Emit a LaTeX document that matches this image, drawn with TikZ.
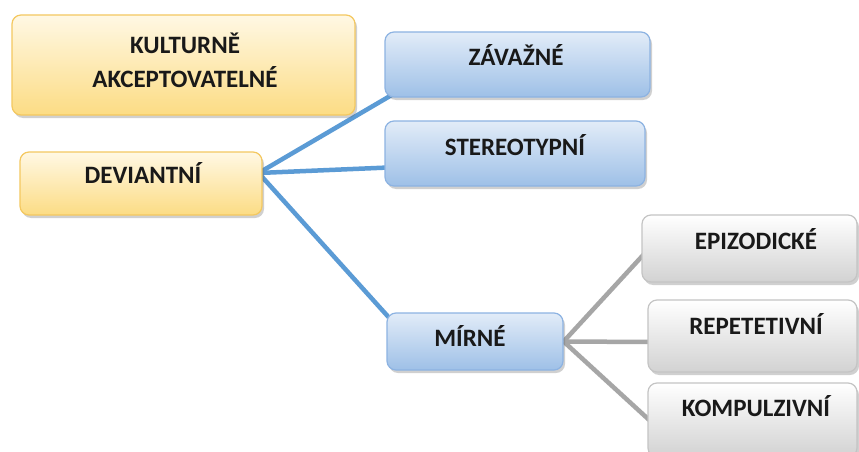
\documentclass[tikz,border=0pt]{standalone}
\usepackage{fontspec}
\setmainfont{Carlito}
\usetikzlibrary{shadows,calc,backgrounds}
\definecolor{ytop}{HTML}{FFF8E4}
\definecolor{ybot}{HTML}{FCDC84}
\definecolor{ybord}{HTML}{F4C860}
\definecolor{btop}{HTML}{E2ECF8}
\definecolor{bbot}{HTML}{9EC0E7}
\definecolor{bbord}{HTML}{8DB3E2}
\definecolor{gtop}{HTML}{FFFFFF}
\definecolor{gbot}{HTML}{D2D2D2}
\definecolor{gbord}{HTML}{C4C4C4}
\definecolor{bline}{HTML}{5B9BD5}
\definecolor{gline}{HTML}{A6A6A6}
\tikzset{
  boxbase/.style={draw, line width=1.2pt, rounded corners=9pt, inner sep=0pt,
    drop shadow={shadow xshift=2pt, shadow yshift=-3pt, opacity=0.3, fill=black!60}},
  ybox/.style={boxbase, draw=ybord, top color=ytop, bottom color=ybot},
  bbox/.style={boxbase, draw=bbord, top color=btop, bottom color=bbot},
  gbox/.style={boxbase, draw=gbord, top color=gtop, bottom color=gbot},
  lbl/.style={font=\fontsize{25}{30}\selectfont\bfseries, text=black!90, align=center, inner sep=0pt},
  bcon/.style={draw=bline, line width=4.5pt},
  gcon/.style={draw=gline, line width=4.5pt},
}
\begin{document}
\begin{tikzpicture}[x=1pt,y=-1pt]
\useasboundingbox (0,0) rectangle (859,452);
% boxes
\node[ybox, minimum width=343pt, minimum height=100pt] (k) at (183.5,65) {};
\node[ybox, minimum width=242pt, minimum height=63pt] (d) at (141,183.5) {};
\node[bbox, minimum width=265pt, minimum height=65pt] (z) at (517.5,64.5) {};
\node[bbox, minimum width=260pt, minimum height=65pt] (s) at (515,153.5) {};
\node[bbox, minimum width=176pt, minimum height=57pt] (m) at (475,341.5) {};
\node[gbox, minimum width=215pt, minimum height=67pt] (e) at (749.5,248.5) {};
\node[gbox, minimum width=209pt, minimum height=72pt] (r) at (752.5,336) {};
\node[gbox, minimum width=209pt, minimum height=74pt] (kp) at (752.5,420) {};
% texts
\node[lbl] (tk1) at (185,43) {KULTURNĚ};
\node[lbl] (tk2) at (185,77) {AKCEPTOVATELNÉ};
\node[lbl] (td) at (143,173) {DEVIANTNÍ};
\node[lbl] (tz) at (516,55) {ZÁVAŽNÉ};
\node[lbl] (ts) at (515,145) {STEREOTYPNÍ};
\node[lbl] (tm) at (470,336) {MÍRNÉ};
\node[lbl] (te) at (756,239) {EPIZODICKÉ};
\node[lbl] (tr) at (756,324) {REPETETIVNÍ};
\node[lbl] (tkp) at (756,406) {KOMPULZIVNÍ};
% connectors
\coordinate (dj) at ($(d.east |- td)+(-4,0)$);
\coordinate (mj) at (m.east);
\begin{pgfonlayer}{background}
\fill[white] (0,0) rectangle (859,452);
\draw[bcon] (dj) -- ($(z.south west)+(8,-3)$);
\draw[bcon] (dj) -- ($(s.west)+(4,14)$);
\draw[bcon] (dj) -- ($(m.north west)+(6,9)$);
\draw[gcon] (mj) -- ($(e.west)+(5,3)$);
\draw[gcon] (mj) -- ($(r.west)+(4,6)$);
\draw[gcon] (mj) -- ($(kp.west)+(4,2)$);
\end{pgfonlayer}
\end{tikzpicture}
\end{document}
